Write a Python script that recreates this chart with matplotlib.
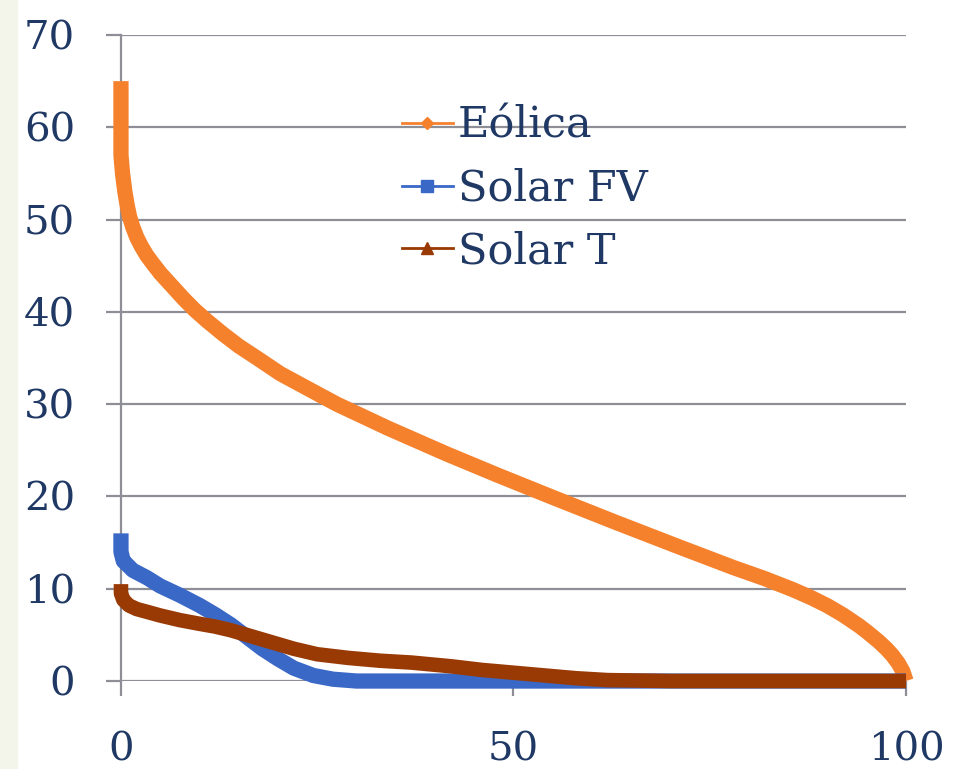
import matplotlib
matplotlib.use("Agg")
import matplotlib.pyplot as plt
from matplotlib.lines import Line2D
from matplotlib.patches import Rectangle

# curvas de duración (% del tiempo vs potencia)
eolica_x = [0, 0, 0.2, 0.5, 0.8, 1.1, 1.5, 2, 2.6, 3.3, 4, 5, 6.5, 8, 9.4, 11,
            13, 15, 17.5, 20.3, 24, 27.5, 34, 41.5, 48, 55, 63, 71.2, 78, 82,
            85.6, 88, 90, 92, 94, 95, 96.5, 97.5, 98.3, 99, 99.6, 100]
eolica_y = [65, 57, 55, 53, 51.5, 50.3, 49.2, 48.1, 47.1, 46.1, 45.3, 44.2,
            42.8, 41.4, 40.2, 39, 37.6, 36.3, 34.9, 33.3, 31.6, 30, 27.4, 24.6,
            22.3, 19.9, 17.2, 14.5, 12.3, 11.1, 9.9, 9.0, 8.15, 7.15, 6.0,
            5.35, 4.3, 3.5, 2.75, 1.95, 1.05, 0]

fv_x = [0, 0, 0.3, 0.8, 1.5, 3.3, 5, 7.5, 10, 12, 14, 16, 18, 20, 22, 24.5,
        27, 30, 40, 50, 70, 100]
fv_y = [16, 14, 13, 12.6, 12, 11.2, 10.3, 9.3, 8.2, 7.2, 6.1, 4.8, 3.5, 2.4,
        1.4, 0.6, 0.2, 0, 0, 0, 0, 0]

st_x = [0, 0, 0.3, 1, 2, 3.3, 5, 7.5, 10, 12, 14, 16, 18, 20, 22, 25, 29, 33,
        37, 42, 46, 50, 54, 58, 62, 70, 100]
st_y = [10.5, 9.5, 8.8, 8.2, 7.8, 7.5, 7.1, 6.6, 6.2, 5.9, 5.5, 5.0, 4.5, 4.0,
        3.5, 2.9, 2.5, 2.2, 2.0, 1.6, 1.2, 0.9, 0.6, 0.3, 0.1, 0, 0]

labels = ["Eólica", "Solar FV", "Solar T"]
colors = ["#f5812d", "#3a68c6", "#993a05"]
markers = ["D", "s", "^"]
y_ticks = [0, 10, 20, 30, 40, 50, 60, 70]
x_ticks = [0, 50, 100]

text_color = "#1f3864"
grid_color = "#8e8e96"

plt.rcParams["font.family"] = ["DejaVu Serif"]

fig = plt.figure(figsize=(9.54, 7.69), dpi=100, facecolor="white")
fig.patches.append(Rectangle((0, 0), 0.018, 1, transform=fig.transFigure,
                             color="#f3f5ea", zorder=-1))
ax = fig.add_axes([0.1268, 0.1144, 0.8229, 0.8401])

ax.plot(eolica_x, eolica_y, color=colors[0], lw=11, solid_capstyle="butt",
        solid_joinstyle="round", zorder=3, clip_on=False)
ax.plot(fv_x, fv_y, color=colors[1], lw=11, solid_capstyle="butt",
        solid_joinstyle="round", zorder=4, clip_on=False)
ax.plot(st_x, st_y, color=colors[2], lw=10.5, solid_capstyle="butt",
        solid_joinstyle="round", zorder=5, clip_on=False)

ax.set_xlim(0, 100)
ax.set_ylim(0, 70)
ax.set_yticks(y_ticks)
ax.set_xticks(x_ticks)
ax.yaxis.grid(True, color=grid_color, lw=1.6)
ax.set_axisbelow(True)
for s in ["top", "right", "bottom"]:
    ax.spines[s].set_visible(False)
ax.spines["left"].set_color(grid_color)
ax.spines["left"].set_linewidth(1.6)
ax.tick_params(axis="both", colors=grid_color, labelcolor=text_color,
               labelsize=29, length=11, width=1.6, pad=22)
ax.tick_params(axis="x", pad=25)

handles = [Line2D([0], [0], color=c, lw=2, marker=m, markersize=ms)
           for c, m, ms in zip(colors, markers, [6, 8, 8])]
leg = ax.legend(handles, labels, loc="upper left", bbox_to_anchor=(0.33, 0.925),
                frameon=False, fontsize=31, handlelength=1.2, handletextpad=0.1,
                labelspacing=0.48, borderpad=0)
for t in leg.get_texts():
    t.set_color(text_color)

fig.savefig("out.png", dpi=100, facecolor=fig.get_facecolor())
